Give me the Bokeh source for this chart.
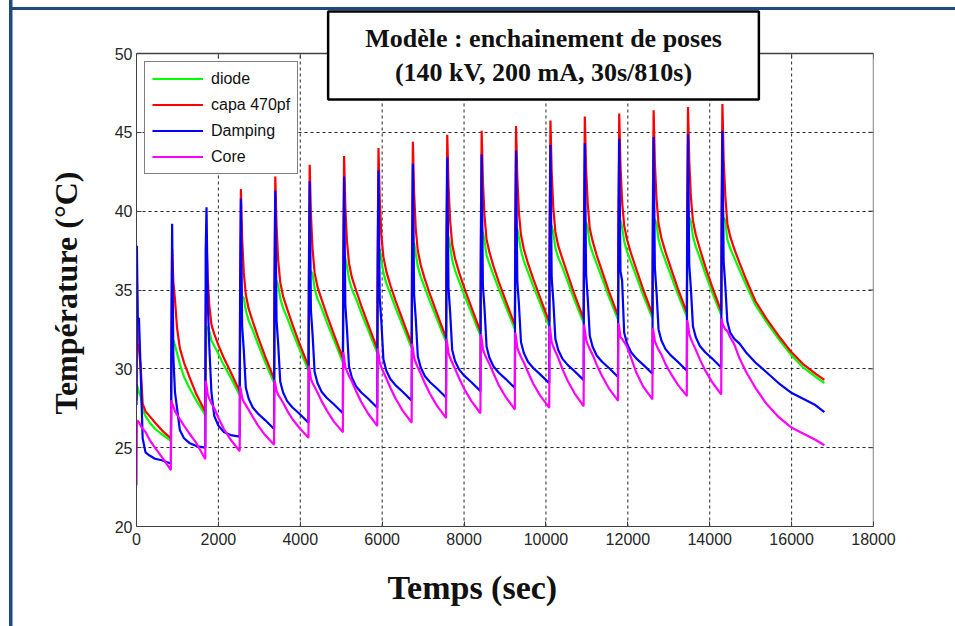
from bokeh.plotting import figure
from bokeh.models import Range1d, FixedTicker, Label, Title
from bokeh.embed import file_html
from bokeh.resources import INLINE

# ---------------- data ----------------
period = 840            # s between starts of two poses (30 s on / 810 s off)
n_cycles = 18
offsets = [0, 10, 30, 60, 100, 150, 220, 320, 450, 620, 835]     # s within a cycle
tail_offsets = [1100, 1400, 1700, 2000, 2300, 2520]             # s after last pose start

x_ticks = [0, 2000, 4000, 6000, 8000, 10000, 12000, 14000, 16000, 18000]
y_ticks = [20, 25, 30, 35, 40, 45, 50]

capa = [
    [28.0, 35.5, 31.6, 31.2, 30.2, 27.8, 27.3, 27.0, 26.6, 26.1, 25.6],
    [25.6, 31.0, 37.6, 35.5, 34.4, 32.6, 31.3, 30.4, 29.5, 28.4, 27.3],
    [27.3, 32.7, 38.2, 35.7, 34.0, 32.8, 32.2, 31.5, 30.7, 29.8, 28.6],
    [28.6, 35.0, 41.4, 38.3, 36.1, 34.7, 33.8, 33.0, 32.0, 30.8, 29.4],
    [29.4, 35.8, 42.2, 39.1, 36.9, 35.5, 34.6, 33.8, 32.8, 31.6, 30.2],
    [30.2, 36.6, 42.95, 39.8, 37.6, 36.1, 35.2, 34.4, 33.4, 32.2, 30.7],
    [30.7, 37.1, 43.5, 40.3, 38.1, 36.7, 35.8, 35.0, 34.0, 32.8, 31.3],
    [31.3, 37.6, 44.0, 40.8, 38.5, 37.1, 36.2, 35.3, 34.3, 33.1, 31.6],
    [31.6, 38.0, 44.4, 41.2, 38.9, 37.5, 36.6, 35.7, 34.7, 33.5, 32.0],
    [32.0, 38.4, 44.85, 41.6, 39.4, 37.9, 37.0, 36.1, 35.1, 33.9, 32.4],
    [32.4, 38.8, 45.1, 41.9, 39.7, 38.2, 37.4, 36.5, 35.5, 34.3, 32.8],
    [32.8, 39.1, 45.4, 42.2, 39.9, 38.5, 37.6, 36.7, 35.7, 34.5, 33.0],
    [33.0, 39.4, 45.75, 42.5, 40.2, 38.7, 37.8, 37.0, 36.0, 34.7, 33.2],
    [33.2, 39.6, 46.0, 42.7, 40.5, 38.9, 38.1, 37.2, 36.2, 34.9, 33.4],
    [33.4, 39.8, 46.2, 42.9, 40.6, 39.1, 38.2, 37.3, 36.3, 35.0, 33.5],
    [33.5, 40.0, 46.4, 43.1, 40.8, 39.2, 38.3, 37.4, 36.4, 35.1, 33.6],
    [33.6, 40.1, 46.6, 43.2, 40.9, 39.4, 38.5, 37.6, 36.5, 35.2, 33.7],
    [33.7, 40.2, 46.8, 43.3, 41.0, 39.2, 38.4, 37.6, 36.7, 35.6, 34.3],
]
capa_tail = [33.2, 32.1, 31.1, 30.3, 29.7, 29.3]

diode = [
    [28.0, 29.0, 28.8, 28.5, 28.3, 27.4, 27.0, 26.6, 26.2, 25.85, 25.45],
    [25.45, 29.0, 31.8, 31.8, 31.5, 31.0, 30.3, 29.5, 28.8, 28.0, 27.1],
    [27.1, 29.9, 32.4, 32.7, 32.4, 31.8, 31.45, 30.95, 30.25, 29.45, 28.35],
    [28.35, 31.5, 34.3, 34.6, 34.5, 33.7, 33.05, 32.45, 31.55, 30.45, 29.15],
    [29.15, 32.4, 35.3, 35.6, 35.3, 34.5, 33.85, 33.25, 32.35, 31.25, 29.95],
    [29.95, 33.1, 35.9, 36.2, 36.0, 35.1, 34.45, 33.85, 32.95, 31.85, 30.45],
    [30.45, 33.7, 36.7, 37.0, 36.5, 35.7, 35.05, 34.45, 33.55, 32.45, 31.05],
    [31.05, 34.3, 37.3, 37.6, 36.9, 36.1, 35.45, 34.75, 33.85, 32.75, 31.35],
    [31.35, 34.7, 37.7, 38.0, 37.3, 36.5, 35.85, 35.15, 34.25, 33.15, 31.75],
    [31.75, 35.1, 38.1, 38.4, 37.8, 36.9, 36.25, 35.55, 34.65, 33.55, 32.15],
    [32.15, 35.4, 38.4, 38.7, 38.1, 37.2, 36.65, 35.95, 35.05, 33.95, 32.55],
    [32.55, 35.7, 38.6, 38.9, 38.3, 37.5, 36.85, 36.15, 35.25, 34.15, 32.75],
    [32.75, 35.9, 38.8, 39.1, 38.6, 37.7, 37.05, 36.45, 35.55, 34.35, 32.95],
    [32.95, 36.1, 39.0, 39.3, 38.9, 37.9, 37.35, 36.65, 35.75, 34.55, 33.15],
    [33.15, 36.3, 39.1, 39.4, 39.0, 38.1, 37.45, 36.75, 35.85, 34.65, 33.25],
    [33.25, 36.4, 39.2, 39.5, 39.2, 38.2, 37.55, 36.85, 35.95, 34.75, 33.35],
    [33.35, 36.5, 39.3, 39.6, 39.3, 38.4, 37.75, 37.05, 36.05, 34.85, 33.45],
    [33.45, 36.5, 39.3, 39.6, 39.4, 38.2, 37.65, 37.05, 36.25, 35.25, 34.05],
]
diode_tail = [33.0, 31.9, 30.9, 30.1, 29.5, 29.1]

damping = [
    [27.7, 37.8, 33.2, 33.2, 30.0, 25.6, 24.7, 24.5, 24.3, 24.2, 24.0],
    [24.0, 30.3, 39.2, 30.8, 28.5, 27.5, 26.1, 25.6, 25.3, 25.1, 25.0],
    [25.0, 37.5, 40.25, 34.3, 31.3, 28.5, 27.0, 26.4, 26.0, 25.8, 25.7],
    [25.7, 34.0, 40.8, 32.7, 31.2, 28.8, 28.1, 27.55, 27.15, 26.75, 26.2],
    [26.2, 34.5, 41.3, 33.1, 31.6, 29.2, 28.5, 27.95, 27.55, 27.15, 26.6],
    [26.6, 35.0, 41.9, 33.7, 32.2, 29.8, 29.1, 28.55, 28.15, 27.75, 27.2],
    [27.2, 35.5, 42.2, 34.05, 32.55, 30.15, 29.45, 28.9, 28.5, 28.1, 27.55],
    [27.55, 35.8, 42.6, 34.5, 33.0, 30.6, 29.9, 29.35, 28.95, 28.55, 28.0],
    [28.0, 36.3, 43.0, 34.7, 33.2, 30.8, 30.1, 29.55, 29.15, 28.75, 28.2],
    [28.2, 36.6, 43.4, 35.1, 33.6, 31.2, 30.5, 29.95, 29.55, 29.15, 28.6],
    [28.6, 36.9, 43.6, 35.3, 33.8, 31.4, 30.7, 30.15, 29.75, 29.35, 28.8],
    [28.8, 37.1, 43.85, 35.6, 34.1, 31.7, 31.0, 30.45, 30.05, 29.65, 29.1],
    [29.1, 37.4, 44.2, 35.8, 34.3, 31.9, 31.2, 30.65, 30.25, 29.85, 29.3],
    [29.3, 37.6, 44.3, 36.0, 34.5, 32.1, 31.4, 30.85, 30.45, 30.05, 29.5],
    [29.5, 37.8, 44.6, 36.2, 35.6, 32.3, 31.6, 31.05, 30.65, 30.25, 29.7],
    [29.7, 38.0, 44.7, 36.4, 34.9, 32.5, 31.8, 31.25, 30.85, 30.45, 29.9],
    [29.9, 38.2, 44.9, 36.6, 35.1, 32.7, 32.0, 31.45, 31.05, 30.65, 30.1],
    [30.1, 38.4, 45.1, 36.8, 35.3, 33.0, 32.3, 31.9, 31.6, 31.0, 30.4],
]
damping_tail = [29.8, 29.1, 28.5, 28.1, 27.7, 27.25]

core = [
    [22.6, 26.7, 26.7, 26.6, 26.4, 26.2, 26.0, 25.5, 25.0, 24.4, 23.6],
    [23.6, 28.0, 27.8, 27.6, 27.3, 27.1, 26.8, 26.4, 25.9, 25.3, 24.3],
    [24.3, 29.25, 28.95, 28.35, 28.1, 27.8, 27.5, 26.9, 26.2, 25.5, 24.8],
    [24.8, 28.9, 28.65, 28.15, 27.9, 27.7, 27.4, 26.95, 26.4, 25.8, 25.2],
    [25.2, 29.3, 29.05, 28.6, 28.35, 28.15, 27.85, 27.35, 26.8, 26.25, 25.65],
    [25.65, 30.2, 29.9, 29.35, 29.1, 28.85, 28.5, 27.95, 27.35, 26.65, 26.0],
    [26.0, 31.05, 30.7, 30.1, 29.85, 29.55, 29.2, 28.6, 27.9, 27.15, 26.4],
    [26.4, 31.3, 31.0, 30.4, 30.1, 29.8, 29.4, 28.8, 28.1, 27.35, 26.6],
    [26.6, 31.6, 31.3, 30.7, 30.4, 30.1, 29.7, 29.1, 28.4, 27.65, 26.9],
    [26.9, 31.9, 31.6, 31.0, 30.7, 30.4, 30.0, 29.4, 28.7, 27.95, 27.2],
    [27.2, 32.2, 31.9, 31.25, 30.95, 30.65, 30.3, 29.7, 28.95, 28.2, 27.45],
    [27.45, 32.3, 32.0, 31.35, 31.05, 30.75, 30.4, 29.8, 29.05, 28.3, 27.55],
    [27.55, 32.7, 32.35, 31.7, 31.4, 31.1, 30.7, 30.0, 29.25, 28.45, 27.65],
    [27.65, 32.8, 32.45, 31.85, 31.55, 31.25, 30.9, 30.25, 29.55, 28.75, 28.0],
    [28.0, 32.9, 32.6, 32.0, 31.9, 31.7, 31.4, 30.7, 29.75, 28.85, 28.1],
    [28.1, 32.6, 32.3, 31.75, 31.5, 31.2, 30.9, 30.3, 29.7, 29.0, 28.3],
    [28.3, 33.1, 32.8, 32.2, 31.9, 31.6, 31.2, 30.6, 29.9, 29.15, 28.4],
    [28.4, 33.2, 32.9, 32.7, 32.5, 32.4, 32.0, 31.55, 30.65, 29.75, 28.8],
]
core_tail = [27.8, 26.95, 26.3, 25.9, 25.5, 25.15]

series_names = ["diode", "capa 470pf", "Damping", "Core"]
series_colors = ["#00FF00", "#FF0000", "#0000FF", "#FF00FF"]


def build(rows, tail):
    t, v = [], []
    for k, row in enumerate(rows):
        for off, val in zip(offsets, row):
            t.append(k * period + off)
            v.append(val)
    for off, val in zip(tail_offsets, tail):
        t.append((n_cycles - 1) * period + off)
        v.append(val)
    return t, v


# ---------------- layout constants (pixels) ----------------
W, H = 955, 626
FRAME_L, FRAME_R, FRAME_B = 136, 873, 526      # plot box edges on the page
Y50_PX = 53                                     # pixel row of the 50 °C line
px_per_deg = (FRAME_B - Y50_PX) / (y_ticks[-1] - y_ticks[0])
y_top = y_ticks[0] + FRAME_B / px_per_deg       # frame reaches up to the page top
px_per_sec = (FRAME_R - FRAME_L) / (x_ticks[-1] - x_ticks[0])
TICK = 5

AX = "#404040"
FRAME = "#1F4A7C"

p = figure(width=W, height=H, output_backend="svg", toolbar_location=None,
           x_range=Range1d(x_ticks[0], x_ticks[-1]), y_range=Range1d(y_ticks[0], y_top),
           min_border_left=FRAME_L, min_border_right=W - FRAME_R,
           min_border_top=0, min_border_bottom=H - FRAME_B)
p.background_fill_alpha = 0
p.border_fill_alpha = 0
p.outline_line_color = None
# dark blue slide frame (left and top edges) painted behind the transparent canvas
p.styles = {
    "background-image": f"linear-gradient({FRAME}, {FRAME}), linear-gradient({FRAME}, {FRAME})",
    "background-size": "3.5px 100%, 100% 3px",
    "background-position": "9px 0px, 9px 7px",
    "background-repeat": "no-repeat",
}

for ax in (p.xaxis[0], p.yaxis[0]):
    ax.axis_line_color = AX
    ax.major_tick_line_color = AX
    ax.major_tick_in = TICK
    ax.major_tick_out = 0
    ax.minor_tick_line_color = None
    ax.major_label_text_font = "Liberation Sans"
    ax.major_label_text_font_size = "16px"
    ax.major_label_text_color = "#262626"
p.xaxis[0].ticker = FixedTicker(ticks=x_ticks)
p.yaxis[0].ticker = FixedTicker(ticks=y_ticks)
p.yaxis[0].bounds = (y_ticks[0], y_ticks[-1])
p.xaxis[0].major_label_standoff = 6
p.yaxis[0].major_label_standoff = 4

# grid: horizontal lines from the grid model, vertical ones limited to the box
p.xgrid.visible = False
p.ygrid.ticker = FixedTicker(ticks=y_ticks[1:-1])
p.ygrid.grid_line_color = "black"
p.ygrid.grid_line_dash = "3 3"
p.ygrid.grid_line_alpha = 0.85
inner_x = x_ticks[1:-1]
p.segment(x0=inner_x, y0=[y_ticks[0]] * len(inner_x), x1=inner_x, y1=[y_ticks[-1]] * len(inner_x),
          line_color="black", line_dash="3 3", line_alpha=0.85, line_width=1)

# top and right edges of the box with inward ticks
p.segment(x0=[x_ticks[0], x_ticks[-1]], y0=[y_ticks[-1], y_ticks[0]],
          x1=[x_ticks[-1], x_ticks[-1]], y1=[y_ticks[-1], y_ticks[-1]],
          line_color=AX, line_width=1.3)
p.segment(x0=x_ticks, y0=[y_ticks[-1]] * len(x_ticks), x1=x_ticks,
          y1=[y_ticks[-1] - TICK / px_per_deg] * len(x_ticks), line_color=AX, line_width=1)
p.segment(x0=[x_ticks[-1]] * len(y_ticks), y0=y_ticks,
          x1=[x_ticks[-1] - TICK / px_per_sec] * len(y_ticks), y1=y_ticks, line_color=AX, line_width=1)

for rows, tail, name, col in zip((diode, capa, damping, core),
                                 (diode_tail, capa_tail, damping_tail, core_tail),
                                 series_names, series_colors):
    t, v = build(rows, tail)
    p.line(t, v, line_color=col, line_width=2.2, legend_label=name)

lg = p.legend[0]
lg.location = (8, 352)
lg.margin = 0
lg.padding = 7
lg.spacing = 7
lg.label_height = 19
lg.glyph_height = 19
lg.glyph_width = 51
lg.label_standoff = 8
lg.border_line_color = "black"
lg.border_line_width = 1
lg.background_fill_color = "white"
lg.background_fill_alpha = 1
lg.label_text_font = "Liberation Sans"
lg.label_text_font_size = "16px"
lg.label_text_color = "#111111"

# axis titles (align/offset place them where the reference has them)
p.add_layout(Title(text="Température (°C)", align="left", offset=112, standoff=55,
                   text_font="Liberation Serif", text_font_style="bold",
                   text_font_size="32px", text_color="#111111"), "left")
p.add_layout(Title(text="Temps (sec)", align="left", offset=251, standoff=39,
                   text_font="Liberation Serif", text_font_style="bold",
                   text_font_size="34px", text_color="#111111"), "below")

# boxed title
p.add_layout(Label(x=407, y=471, x_units="screen", y_units="screen",
                   text="Modèle : enchainement de poses\n(140 kV, 200 mA, 30s/810s)",
                   text_align="center", text_baseline="middle",
                   text_font="Liberation Serif", text_font_style="bold",
                   text_font_size="26px", text_color="#111111",
                   background_fill_color="white", background_fill_alpha=1,
                   border_line_color="black", border_line_width=2.5,
                   padding=dict(left=37, right=37, top=12, bottom=12)))

open("out.html", "w").write(file_html(p, INLINE))
